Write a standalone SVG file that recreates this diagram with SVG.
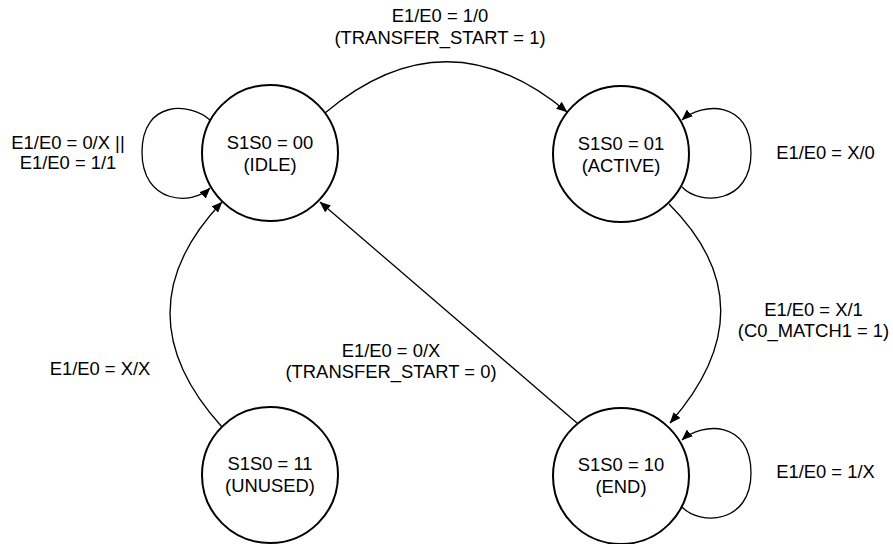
<svg xmlns="http://www.w3.org/2000/svg" width="893" height="544" viewBox="0 0 893 544">
  <style>
    .state circle { fill: #ffffff; stroke: #000000; stroke-width: 2; }
    text { font-family: "Liberation Sans", Arial, sans-serif; font-size: 18.4px; fill: #000000; text-anchor: middle; }
    .edge { fill: none; stroke: #000000; stroke-width: 1.3; marker-end: url(#arrow); }
  </style>
  <defs>
    <marker id="arrow" markerUnits="userSpaceOnUse" viewBox="0 0 11 9" refX="10.5" refY="4.5" markerWidth="11" markerHeight="9" orient="auto">
      <path d="M0,0 L11,4.5 L0,9 Z" fill="#000000"/>
    </marker>
  </defs>
  <rect width="893" height="544" fill="#ffffff"/>

  <!-- transitions -->
  <g id="connectors">
    <!-- IDLE self loop -->
    <path class="edge" d="M210,120 C190,102 142,100 142,152 C142,204 192,206 210,188"/>
    <!-- IDLE -> ACTIVE -->
    <path class="edge" d="M325,113 Q446,11 567,112"/>
    <!-- ACTIVE self loop -->
    <path class="edge" d="M682,187 C700,206 751,204 751,153 C751,100 702,102 682,120"/>
    <!-- ACTIVE -> END -->
    <path class="edge" d="M669,204 Q772,307 670,423"/>
    <!-- END self loop -->
    <path class="edge" d="M682,507 C700,526 751,524 751,473 C751,420 702,422 682,440"/>
    <!-- END -> IDLE -->
    <path class="edge" d="M577,423 L320,202"/>
    <!-- UNUSED -> IDLE -->
    <path class="edge" d="M222,427 Q118,312 222,202"/>

    <text x="440" y="21.5">E1/E0 = 1/0</text>
    <text x="440" y="43.5">(TRANSFER_START = 1)</text>
    <text x="68" y="148.5">E1/E0 = 0/X ||</text>
    <text x="68" y="168.5">E1/E0 = 1/1</text>
    <text x="825.5" y="158.8">E1/E0 = X/0</text>
    <text x="813.5" y="315.5">E1/E0 = X/1</text>
    <text x="813.5" y="336.5">(C0_MATCH1 = 1)</text>
    <text x="391" y="357">E1/E0 = 0/X</text>
    <text x="391" y="378">(TRANSFER_START = 0)</text>
    <text x="100" y="374.5">E1/E0 = X/X</text>
    <text x="825.5" y="478">E1/E0 = 1/X</text>
  </g>

  <!-- states -->
  <g id="idle" class="state">
    <circle cx="270" cy="153" r="68"/>
    <text x="270" y="148.5">S1S0 = 00</text>
    <text x="270" y="170.5">(IDLE)</text>
  </g>
  <g id="active" class="state">
    <circle cx="621" cy="154" r="68"/>
    <text x="621" y="149.5">S1S0 = 01</text>
    <text x="621" y="171.5">(ACTIVE)</text>
  </g>
  <g id="unused" class="state">
    <circle cx="270" cy="475" r="68"/>
    <text x="270" y="470">S1S0 = 11</text>
    <text x="270" y="492">(UNUSED)</text>
  </g>
  <g id="end" class="state">
    <circle cx="621" cy="476" r="68"/>
    <text x="621" y="471">S1S0 = 10</text>
    <text x="621" y="493">(END)</text>
  </g>
</svg>
